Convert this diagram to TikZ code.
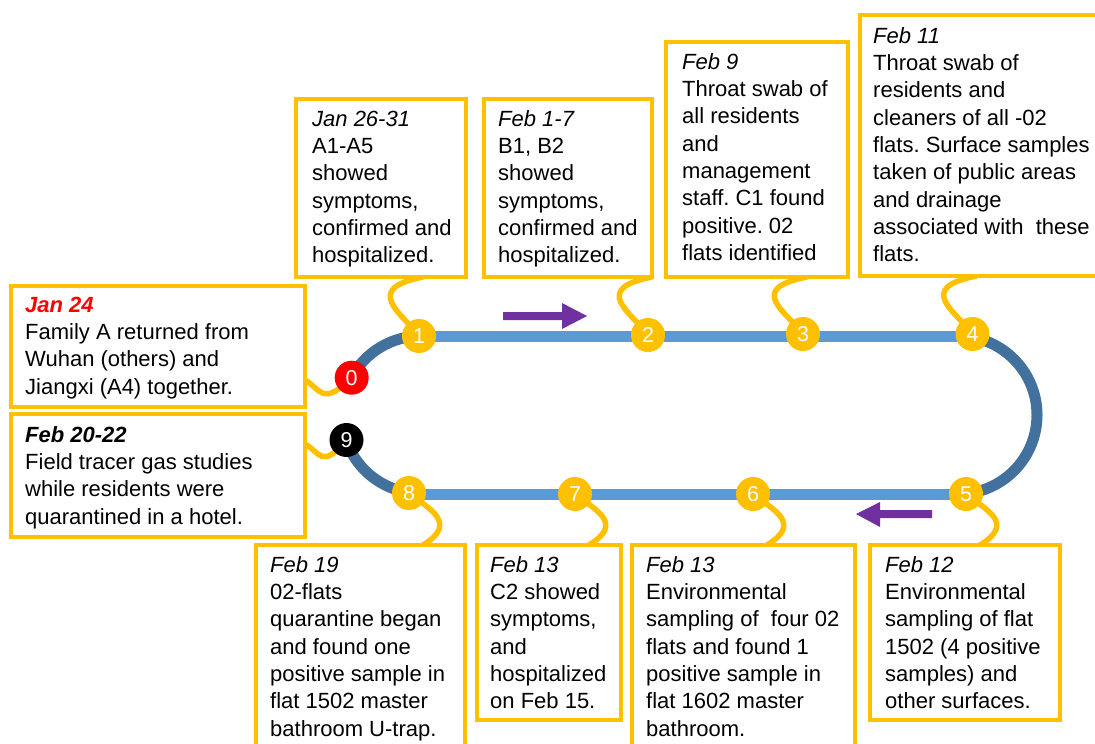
\documentclass[tikz,border=0pt]{standalone}
\usepackage{fontspec}
\setmainfont{Liberation Sans}
\usetikzlibrary{calc}
\definecolor{gold}{HTML}{FFC000}
\definecolor{trackl}{HTML}{5B9BD5}
\definecolor{trackd}{HTML}{41719C}
\definecolor{arrowp}{HTML}{7030A0}
\pgfdeclarelayer{background}
\pgfsetlayers{background,main}
\frenchspacing
\begin{document}
\begin{tikzpicture}[x=1pt,y=-1pt,
  evbox/.style={draw=gold, line width=4pt, fill=white, inner sep=0pt, outer sep=0pt, anchor=north west},
  evtext/.style={anchor=north west, inner sep=0pt, align=left, font=\fontsize{22}{27.3}\selectfont},
  mk/.style={circle, fill=gold, minimum size=34pt, inner sep=0pt, text=white, font=\fontsize{21.5}{21.5}\selectfont},
  conn/.style={draw=gold, line width=5.5pt},
  trk/.style={line width=11pt},
  parrow/.style={fill=arrowp, draw=none}]
\useasboundingbox (0,0) rectangle (1095,744);

% boxes
\node[evbox, minimum width=170pt, minimum height=178pt] (b1) at (296,99) {};
\node[evbox, minimum width=168pt, minimum height=178pt] (b2) at (484,99) {};
\node[evbox, minimum width=182pt, minimum height=235pt] (b3) at (666,42) {};
\node[evbox, minimum width=245pt, minimum height=261pt] (b4) at (860,15) {};
\node[evbox, minimum width=294pt, minimum height=121pt] (b0) at (11,286) {};
\node[evbox, minimum width=294pt, minimum height=123pt] (b9) at (11,414) {};
\node[evbox, minimum width=209pt, minimum height=215pt] (b8) at (256,545) {};
\node[evbox, minimum width=144pt, minimum height=175pt] (b7) at (477,545) {};
\node[evbox, minimum width=223pt, minimum height=215pt] (b6) at (632,545) {};
\node[evbox, minimum width=190pt, minimum height=175pt] (b5) at (870,545) {};

% texts
\node[evtext] (t1) at (312,110) {\rule{0pt}{16pt}\textit{Jan 26-31}\\A1-A5\\showed\\symptoms,\\confirmed and\\hospitalized.};
\node[evtext] (t2) at (498,110) {\rule{0pt}{16pt}\textit{Feb 1-7}\\B1, B2\\showed\\symptoms,\\confirmed and\\hospitalized.};
\node[evtext] (t3) at (682,53) {\rule{0pt}{16pt}\textit{Feb 9}\\Throat swab of\\all residents\\and\\management\\staff. C1 found\\positive. 02\\flats identified};
\node[evtext] (t4) at (873,27) {\rule{0pt}{16pt}\textit{Feb 11}\\Throat swab of\\residents and\\cleaners of all -02\\flats. Surface samples\\taken of public areas\\and drainage\\associated with~ these\\flats.};
\node[evtext] (t0) at (25,296) {\rule{0pt}{16pt}\textcolor{red}{\textbf{\textit{Jan 24}}}\\Family A returned from\\Wuhan (others) and\\Jiangxi (A4) together.};
\node[evtext] (t9) at (25,426) {\rule{0pt}{16pt}\textbf{\textit{Feb 20-22}}\\Field tracer gas studies\\while residents were\\quarantined in a hotel.};
\node[evtext] (t8) at (270,556) {\rule{0pt}{16pt}\textit{Feb 19}\\02-flats\\quarantine began\\and found one\\positive sample in\\flat 1502 master\\bathroom U-trap.};
\node[evtext] (t7) at (490,556) {\rule{0pt}{16pt}\textit{Feb 13}\\C2 showed\\symptoms,\\and\\hospitalized\\on Feb 15.};
\node[evtext] (t6) at (646,556) {\rule{0pt}{16pt}\textit{Feb 13}\\Environmental\\sampling of~ four 02\\flats and found 1\\positive sample in\\flat 1602 master\\bathroom.};
\node[evtext] (t5) at (885,556) {\rule{0pt}{16pt}\textit{Feb 12}\\Environmental\\sampling of flat\\1502 (4 positive\\samples) and\\other surfaces.};

% markers
\node[mk, fill=red] (m0) at (351.7,377.7) {0};
\node[mk] (m1) at (419,336) {1};
\node[mk] (m2) at (648,335) {2};
\node[mk] (m3) at (803,334) {3};
\node[mk] (m4) at (972.5,334) {4};
\node[mk] (m5) at (966,494) {5};
\node[mk] (m6) at (753,494) {6};
\node[mk] (m7) at (575,494) {7};
\node[mk] (m8) at (409,493) {8};
\node[mk, fill=black] (m9) at (346.5,440) {9};

% direction arrows
\fill[parrow] (503,312) -- (562,312) -- (562,303) -- (587,316) -- (562,329) -- (562,320) -- (503,320) -- cycle;
\fill[parrow] (932,510) -- (880,510) -- (880,502) -- (856,514) -- (880,527) -- (880,518) -- (932,518) -- cycle;

\begin{pgfonlayer}{background}
  % track
  \draw[trk, trackl] (421,336) -- (958,336);
  \draw[trk, trackl] (421,494) -- (958,494);
  \draw[trk, trackd] (958,336) arc[start angle=90, end angle=-90, radius=79pt];
  \draw[trk, trackd] (421,336) arc[start angle=90, end angle=152, radius=79pt];
  \draw[trk, trackd] (346.1,440.2) arc[start angle=199, end angle=270, radius=79pt];
  % connectors top
  \foreach \m/\b in {m1/b1, m2/b2, m3/b3, m4/b4}{
    \draw[conn] ($(\m.center |- \b.south)+(4,0)$) .. controls +(-62,12) and +(-16,-22) .. (\m.center);
  }
  % connectors bottom
  \foreach \m/\b in {m5/b5, m6/b6, m7/b7, m8/b8}{
    \draw[conn] (\m.center) .. controls +(20,16) and +(36,-22) .. ($(\m.center |- \b.north)+(14,0)$);
  }
  % connectors left
  \draw[conn] ($(b0.north east)+(0,94)$) .. controls +(15,8) and +(-30,30) .. (m0.center);
  \draw[conn] ($(b9.north east)+(0,30)$) .. controls +(15,8) and +(-25,30) .. (m9.center);
\end{pgfonlayer}
\end{tikzpicture}
\end{document}
